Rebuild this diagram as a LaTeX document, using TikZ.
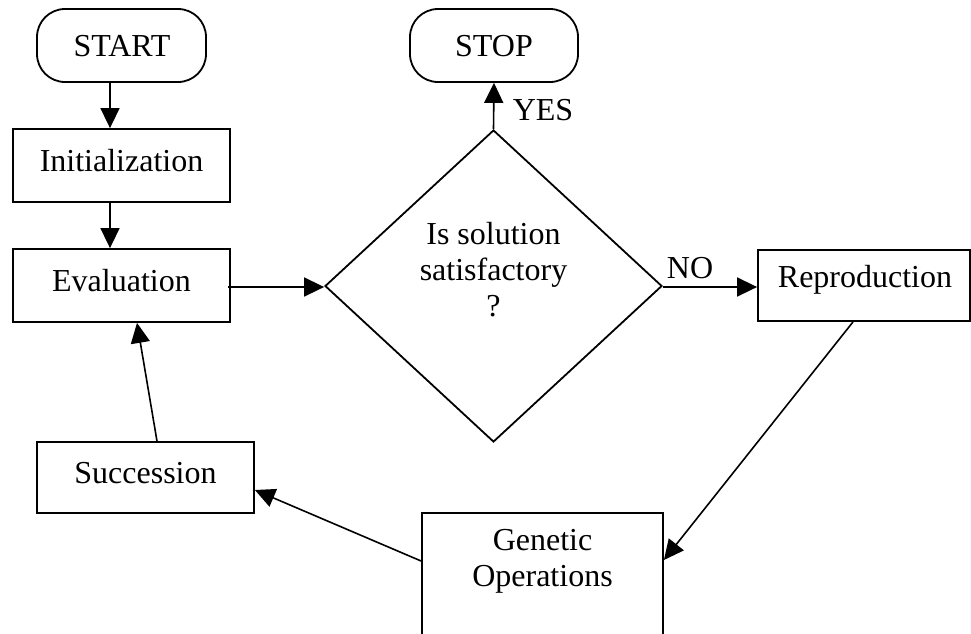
\documentclass[tikz,border=0pt]{standalone}
\usepackage{fontspec}
\setmainfont{Liberation Serif}
\usetikzlibrary{arrows.meta,shapes.geometric,calc}
\begin{document}
\begin{tikzpicture}[x=1pt,y=-1pt,
  every node/.style={font=\fontsize{32}{36}\selectfont},
  term/.style={draw,line width=1.8pt,rounded corners=28pt,inner sep=0pt},
  box/.style={draw,line width=1.8pt,inner sep=0pt},
  txt/.style={inner sep=0pt,align=center},
  conn/.style={line width=1.6pt,-{Triangle[length=20pt,width=19pt]}}]
\useasboundingbox (0,0) rectangle (971,633);
\clip (0,0) rectangle (971,633);
% nodes
\node[term,minimum width=169pt,minimum height=73pt] (start) at (121.5,45.5) {};
\node[txt] (starttxt) at (122,46) {START};
\node[term,minimum width=168pt,minimum height=73pt] (stop) at (494,45.5) {};
\node[txt] (stoptxt) at (494,46) {STOP};
\node[box,minimum width=217pt,minimum height=73pt] (init) at (121.5,165.5) {};
\node[txt] (inittxt) at (121.5,161) {Initialization};
\node[box,minimum width=217pt,minimum height=73pt] (eval) at (121.5,285.5) {};
\node[txt] (evaltxt) at (121.5,281) {Evaluation};
\node[draw,line width=1.8pt,diamond,inner sep=0pt,minimum width=337pt,minimum height=312pt] (dia) at (493.5,286) {};
\node[txt] (diatxt) at (493.5,270) {Is solution\\satisfactory\\?};
\node[box,minimum width=212pt,minimum height=71pt] (repro) at (864,285.5) {};
\node[txt] (reprotxt) at (865,280) {Reproduction};
\node[box,minimum width=217pt,minimum height=71pt] (succ) at (145.5,477.5) {};
\node[txt] (succtxt) at (145.5,473) {Succession};
\node[box,minimum width=241pt,minimum height=160pt] (gen) at (542.5,593) {};
\node[txt] (gentxt) at (542.5,561) {Genetic\\Operations};
% connectors
\draw[conn] ([xshift=-11.5pt]start.south) -- ([xshift=-11.5pt]init.north);
\draw[conn] ([xshift=-11.5pt]init.south) -- ([xshift=-11.5pt]eval.north);
\draw[conn] ([shift={(-3pt,-1.5pt)}]eval.east) -- ([yshift=-1pt]dia.west);
\draw[conn] (dia.north) -- (stop.south);
\node[txt] (yes) at (543,110) {YES};
\draw[conn] ([yshift=-1pt]dia.east) -- ([yshift=-1.5pt]repro.west);
\node[txt] (no) at (690,268) {NO};
\draw[conn] ([xshift=-11pt]repro.south) -- ([yshift=33pt]gen.east);
\draw[conn] ([yshift=32pt]gen.west) -- ([yshift=-12.5pt]succ.east);
\draw[conn] ([xshift=11.5pt]succ.north) -- ([xshift=15.5pt]eval.south);
\end{tikzpicture}
\end{document}
